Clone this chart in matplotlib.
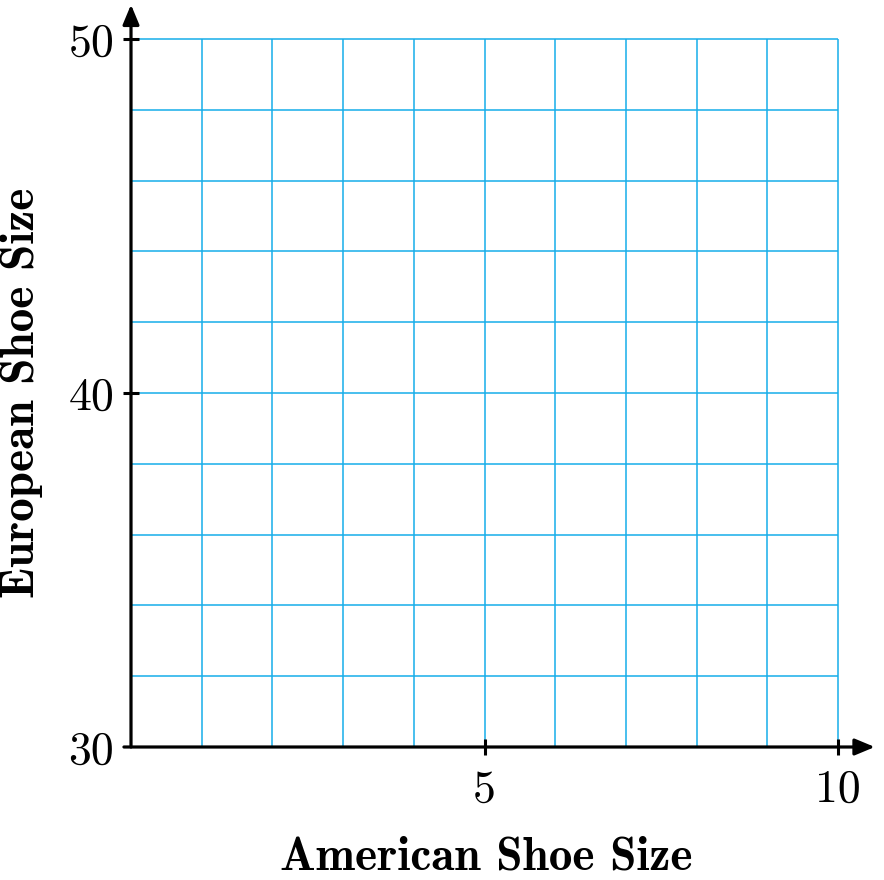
import matplotlib
matplotlib.use("Agg")
import matplotlib.pyplot as plt

x_grid = [1, 2, 3, 4, 5, 6, 7, 8, 9, 10]
y_grid = [32, 34, 36, 38, 40, 42, 44, 46, 48, 50]
x_ticks = [5, 10]
x_ticklabels = ["5", "10"]
y_ticks = [30, 40, 50]
y_ticklabels = ["30", "40", "50"]
x_label = "American Shoe Size"
y_label = "European Shoe Size"

W, H = 884, 880
fig = plt.figure(figsize=(W / 100, H / 100), dpi=100)
left, right, top, bottom = 131, 838, 39, 747
ax = fig.add_axes([left / W, (H - bottom) / H, (right - left) / W, (bottom - top) / H])
ax.set_xlim(0, 10)
ax.set_ylim(30, 50)
for s in ax.spines.values():
    s.set_visible(False)

grid_color = "#16aee9"
ax.vlines(x_grid, 30, 50, color=grid_color, lw=1.1, zorder=1, clip_on=False)
ax.hlines(y_grid, 0, 10, color=grid_color, lw=1.1, zorder=1, clip_on=False)

ax.set_xticks(x_ticks)
ax.set_xticklabels(x_ticklabels)
ax.set_yticks(y_ticks)
ax.set_yticklabels(y_ticklabels)
ax.tick_params(axis="both", direction="inout", length=12, width=2.2, color="black",
               labelsize=33)
ax.tick_params(axis="x", pad=10)
ax.tick_params(axis="y", pad=6)
for lab in ax.get_xticklabels() + ax.get_yticklabels():
    lab.set_fontfamily("cmr10")
# hide tick mark at 30 on y
ax.yaxis.get_major_ticks()[0].tick1line.set_visible(False)

arrow = dict(arrowstyle="-|>,head_length=1.2,head_width=0.5", lw=2.3, color="black",
             shrinkA=0, shrinkB=0)
ax.annotate("", xy=(10.52, 30), xytext=(-0.1, 30), arrowprops=arrow,
            annotation_clip=False, zorder=5)
ax.annotate("", xy=(0, 50.97), xytext=(0, 30), arrowprops=arrow,
            annotation_clip=False, zorder=5)

fig.text(486 / W, 1 - 857 / H, x_label, fontfamily="cmb10", fontsize=34,
         ha="center", va="center")
fig.text(22 / W, 1 - 393 / H, y_label, fontfamily="cmb10", fontsize=34,
         ha="center", va="center", rotation=90)

fig.savefig("out.png", dpi=100)
